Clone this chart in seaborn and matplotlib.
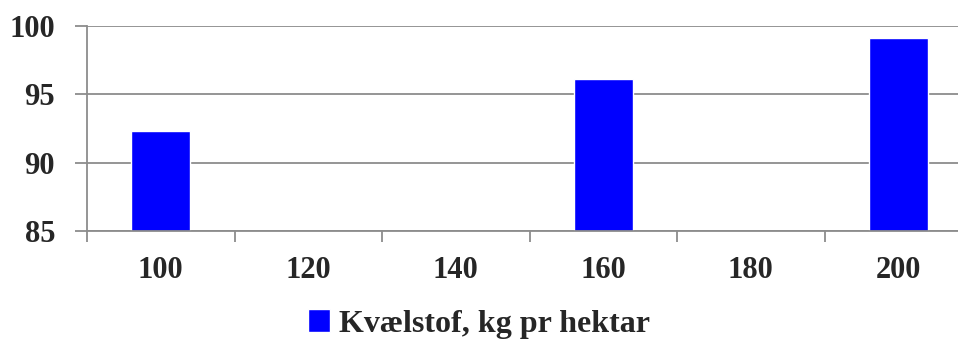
import matplotlib
matplotlib.use("Agg")
import matplotlib.pyplot as plt
import seaborn as sns
import numpy as np
import pandas as pd

# data
categories = ["100", "120", "140", "160", "180", "200"]
values = [92.3, np.nan, np.nan, 96.1, np.nan, 99.1]
series_name = "Kvælstof, kg pr hektar"
y_ticks = [85, 90, 95, 100]

df = pd.DataFrame({"kat": categories, "vaerdi": values})

sns.set_theme(style="white")
plt.rcParams["font.family"] = ["Liberation Serif", "DejaVu Serif"]
plt.rcParams["font.weight"] = "bold"

fig = plt.figure(figsize=(9.58, 3.43), dpi=100)
ax = fig.add_axes([87 / 958, 112 / 343, 885 / 958, 205 / 343])

sns.barplot(data=df, x="kat", y="vaerdi", order=categories, color="#0000ff",
            width=0.4, saturation=1, label=series_name, ax=ax)

grey = "#8c8c8c"
ax.set_ylim(85, 100)
ax.set_xlim(-0.5, len(categories) - 0.5)
ax.set_yticks(y_ticks)
ax.yaxis.grid(True, color=grey, linewidth=1.3)
ax.set_axisbelow(True)

ax.set_xticks(range(len(categories)))
ax.set_xticklabels(categories)
ax.set_xticks(np.arange(-0.5, len(categories), 1), minor=True)
ax.tick_params(axis="x", which="major", bottom=True, length=0, pad=18, labelsize=22)
ax.tick_params(axis="x", which="minor", bottom=True, length=8, width=1.3, color=grey, direction="out")
ax.tick_params(axis="y", left=True, length=9, width=1.3, color=grey, direction="out", pad=14, labelsize=22)
for lab in ax.get_xticklabels() + ax.get_yticklabels():
    lab.set_fontweight("bold")

for side in ["top", "right"]:
    ax.spines[side].set_visible(False)
for side in ["left", "bottom"]:
    ax.spines[side].set_color(grey)
    ax.spines[side].set_linewidth(1.3)

ax.set_xlabel("")
ax.set_ylabel("")
if ax.get_legend() is not None:
    ax.get_legend().remove()

handles, labels = ax.get_legend_handles_labels()
fig.legend(handles, labels, loc="center", bbox_to_anchor=(0.5, 1 - 324 / 343),
           frameon=False, handlelength=0.7, handleheight=0.7, handletextpad=0.3,
           prop={"family": "Liberation Serif", "weight": "bold", "size": 23})

fig.savefig("out.png", dpi=100)
